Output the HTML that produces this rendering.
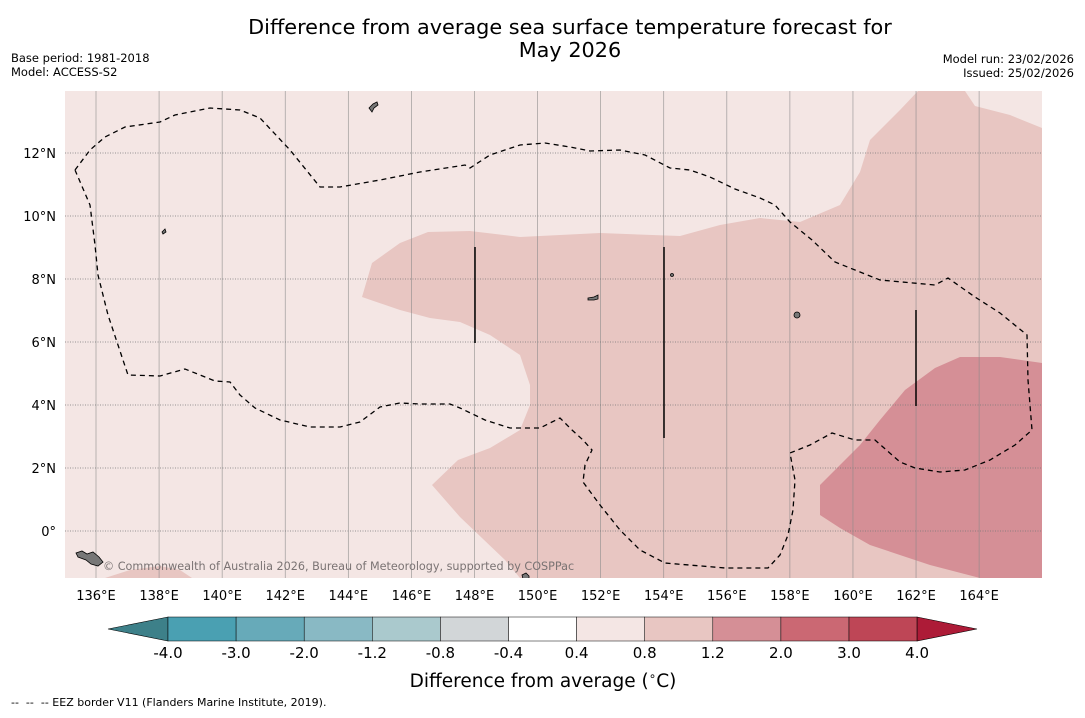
<!DOCTYPE html>
<html><head><meta charset="utf-8"><style>
body{margin:0;background:#fff;width:1085px;height:713px;overflow:hidden;font-family:"Liberation Sans","DejaVu Sans",sans-serif}
text{white-space:pre}
</style></head><body>
<svg id="chart" width="1085" height="713" xmlns="http://www.w3.org/2000/svg">
<text x="570" y="34" text-anchor="middle" font-size="20.8" font-family="DejaVu Sans, sans-serif">Difference from average sea surface temperature forecast for</text>
<text x="570" y="57" text-anchor="middle" font-size="20.8" font-family="DejaVu Sans, sans-serif">May 2026</text>
<text x="11" y="62" font-size="11.5" font-family="DejaVu Sans, sans-serif">Base period: 1981-2018</text>
<text x="11" y="76" font-size="11.5" font-family="DejaVu Sans, sans-serif">Model: ACCESS-S2</text>
<text x="1074" y="63" text-anchor="end" font-size="11.5" font-family="DejaVu Sans, sans-serif">Model run: 23/02/2026</text>
<text x="1074" y="77" text-anchor="end" font-size="11.5" font-family="DejaVu Sans, sans-serif">Issued: 25/02/2026</text>
<defs><clipPath id="mapclip"><rect x="65" y="91" width="977" height="487"/></clipPath></defs>
<g id="map" clip-path="url(#mapclip)">
<rect x="65" y="91" width="977" height="487" fill="#f4e6e4"/>
<polygon fill="#e8c6c2" points="362,297 372,263 400,243 428,232 470,231 520,237 600,233 680,236 720,225 760,218 800,222 840,205 860,172 870,140 900,110 918,91 965,91 975,106 1010,115 1042,128 1042,578 520,578 505,560 460,517 432,485 458,460 490,448 520,430 530,405 530,385 520,355 490,335 460,322 430,318 400,310"/>
<polygon fill="#e8c6c2" points="105,578 130,570 160,566 180,570 192,578"/>
<polygon fill="#d58f96" points="820,485 860,445 880,420 905,390 935,368 960,357 1000,357 1042,363 1042,578 980,578 930,565 870,545 840,528 820,515"/>
<g id="grid"></g>
<polyline fill="none" stroke="#000" stroke-width="1.3" stroke-dasharray="5,4" points="75,170 90,150 105,137 125,127 160,122 175,115 210,108 240,110 260,118 290,150 320,187 340,187 380,180 420,172 465,165 470,168 490,155 520,145 545,143 570,147 590,151 620,150 645,155 670,168 690,170 710,177 735,189 760,198 775,205 790,222 812,240 835,262 880,280 935,285 948,278 975,297 1000,313 1027,335 1028,380 1032,430 1015,445 990,460 965,470 940,472 915,468 900,462 875,440 855,440 832,433 810,445 790,453 795,480 793,510 788,535 780,555 768,568 725,568 665,563 640,550 620,530 600,505 583,482 585,465 592,450 583,440 572,430 560,418 540,428 510,428 485,420 460,408 450,404 420,404 400,403 380,407 360,422 340,427 310,427 280,420 255,408 240,395 230,382 215,381 185,369 160,376 128,375 118,345 108,315 98,275 95,245 90,205 75,170"/>
<g stroke="#000" stroke-width="1.5">
<line x1="475" y1="247" x2="475" y2="343"/><line x1="664" y1="247" x2="664" y2="438"/><line x1="916" y1="310" x2="916" y2="406"/></g>
<g fill="#777" stroke="#000" stroke-width="0.8">
<path d="M369,108 l4,-4 4,-2 1,3 -4,3 -2,4z"/>
<path d="M76,553 l6,-2 5,3 6,-2 6,5 4,5 -5,4 -7,-2 -5,-4 -8,-3z"/>
<ellipse cx="797" cy="315" rx="3" ry="3"/>
<path d="M588,298 l6,-1 4,-2 0,4 -4,1 -6,0z"/>
<path d="M162,232 l3,-3 1,3 -3,2z"/>
<path d="M522,575 l4,-2 3,3 0,3 -6,0z"/>
<ellipse cx="672" cy="275" rx="1.5" ry="1.5"/>
</g>
<text x="103" y="570" font-size="11.2" fill="#7a7373" font-family="DejaVu Sans, sans-serif">© Commonwealth of Australia 2026, Bureau of Meteorology, supported by COSPPac</text>
</g>
<g id="axes"></g>
<g id="colorbar"></g>
<text x="543" y="687" text-anchor="middle" font-size="18.5" font-family="DejaVu Sans, sans-serif">Difference from average (<tspan font-size="12" dy="-7">∘</tspan><tspan dy="7">C)</tspan></text>
<text x="11" y="706" font-size="11" font-family="DejaVu Sans, sans-serif">--  --  -- EEZ border V11 (Flanders Marine Institute, 2019).</text>
</svg>
<script>
const lonTicks=[136,138,140,142,144,146,148,150,152,154,156,158,160,162,164];
const latTicks=[0,2,4,6,8,10,12];
const levels=["-4.0","-3.0","-2.0","-1.2","-0.8","-0.4","0.4","0.8","1.2","2.0","3.0","4.0"];
const levelColors=["#4aa0b2","#67aab9","#89b9c4","#aac9cd","#d2d6d8","#ffffff","#f4e6e4","#e8c6c2","#d58f96","#cb6873","#be4656"];
const lowColor="#3d8089", highColor="#ad1b37";
const NS="http://www.w3.org/2000/svg";
const xLon=l=>96+(l-136)*31.54;
const yLat=l=>531-l*31.5;
function mk(tag,attrs,parent){const e=document.createElementNS(NS,tag);for(const k in attrs)e.setAttribute(k,attrs[k]);parent.appendChild(e);return e;}
const grid=document.getElementById('grid'),axes=document.getElementById('axes'),cb=document.getElementById('colorbar');
lonTicks.forEach(l=>{const x=xLon(l);
 const g=mk('line',{x1:x,y1:91,x2:x,y2:578,stroke:'#888','stroke-width':0.7,'stroke-opacity':0.8},grid);
 
 
 const t=mk('text',{x:x,y:600,'text-anchor':'middle','font-size':13,'font-family':'DejaVu Sans, sans-serif'},axes);
 t.textContent=l+'°E';
 
 
});
latTicks.forEach(l=>{const y=yLat(l);
 const g=mk('line',{x1:65,y1:y,x2:1042,y2:y,stroke:'#777','stroke-width':0.8,'stroke-dasharray':'1,1.5'},grid);
 
 
 const t=mk('text',{x:56,y:y+5,'text-anchor':'end','font-size':13,'font-family':'DejaVu Sans, sans-serif'},axes);
 t.textContent=l===0?'0°':l+'°N';
 
 
});
const cx0=168,cw=68.1,cy=617,ch=24;
const lo=mk('polygon',{points:`${cx0},${cy} 108,${cy+ch/2} ${cx0},${cy+ch}`,fill:lowColor,stroke:'#000','stroke-width':0.6},cb);


levelColors.forEach((c,i)=>{
 const r=mk('rect',{x:cx0+i*cw,y:cy,width:cw,height:ch,fill:c,stroke:'#000','stroke-width':0.5},cb);
 
 
});
const xe=cx0+levelColors.length*cw;
const hi=mk('polygon',{points:`${xe},${cy} 977,${cy+ch/2} ${xe},${cy+ch}`,fill:highColor,stroke:'#000','stroke-width':0.6},cb);


levels.forEach((v,i)=>{
 const t=mk('text',{x:cx0+i*cw,y:658,'text-anchor':'middle','font-size':15,'font-family':'DejaVu Sans, sans-serif'},cb);
 t.textContent=v;
 
 
});
</script>
</body></html>
